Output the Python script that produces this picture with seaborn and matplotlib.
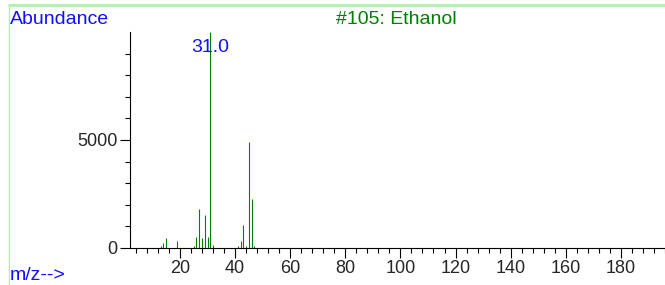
import numpy as np
import pandas as pd
import matplotlib.pyplot as plt
import seaborn as sns
from matplotlib.lines import Line2D
from matplotlib.ticker import MultipleLocator, FixedLocator

sns.set_theme(style="ticks")
plt.rcParams['font.family'] = ['Liberation Sans', 'DejaVu Sans']

# mass spectrum of ethanol (m/z vs abundance)
mz = [13, 14, 15, 19, 25, 26, 27, 28, 29, 30, 31, 32, 41, 42, 43, 44, 45, 46, 47]
abundance = [90, 245, 475, 320, 75, 520, 1810, 460, 1520, 520, 9999, 120,
             90, 340, 1060, 75, 4920, 2250, 75]
spec = pd.DataFrame({"mz": mz, "abundance": abundance})

title = "#105: Ethanol"
base_peak = spec.loc[spec["abundance"].idxmax()]

blue = "#1010ff"
green = "#008000"

fig = plt.figure(figsize=(6.65, 2.85), dpi=100)
ax = fig.add_axes([0.196, 0.130, 0.804, 0.758])

ax.vlines(spec["mz"], 0, spec["abundance"], color=green, lw=0.8)

ax.set_xlim(2, 196)
ax.set_ylim(0, 10000)
ax.xaxis.set_major_locator(FixedLocator(list(range(20, 200, 20))))
ax.xaxis.set_minor_locator(MultipleLocator(4))
ax.yaxis.set_major_locator(FixedLocator([0, 5000]))
ax.yaxis.set_minor_locator(FixedLocator([k * 1000 for k in range(1, 10) if k != 5]))
ax.tick_params(which="major", length=7, width=0.8, labelsize=13, pad=2, color="black")
ax.tick_params(which="minor", length=3.5, width=0.8, color="black")
for s in ["left", "bottom"]:
    ax.spines[s].set_color("black")
    ax.spines[s].set_linewidth(0.8)
sns.despine(ax=ax)

ax.text(base_peak["mz"], 9300, f"{base_peak['mz']:.1f}", color=blue,
        fontsize=14, ha="center", va="center")

fig.text(10 / 665, 1 - 19 / 285, "Abundance", color=blue, fontsize=14,
         ha="left", va="center")
fig.text(396 / 665, 1 - 19 / 285, title, color=green, fontsize=14,
         ha="center", va="center")
fig.text(10 / 665, 1 - 275 / 285, "m/z-->", color=blue, fontsize=14,
         ha="left", va="center")

# light green frame
fig.add_artist(Line2D([9 / 665, 1], [1 - 5 / 285] * 2, color="#b0f0b0", lw=2,
                      transform=fig.transFigure))
fig.add_artist(Line2D([9 / 665] * 2, [0, 1 - 5 / 285], color="#b0f0b0", lw=1,
                      transform=fig.transFigure))

fig.savefig("out.png", dpi=100)
